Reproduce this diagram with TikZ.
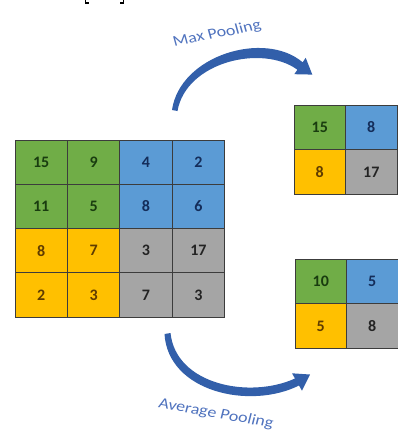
\documentclass[tikz,border=0pt]{standalone}
\usepackage{fontspec}
\setmainfont{Carlito}
\begin{document}
\definecolor{cgreen}{RGB}{112,173,71}
\definecolor{cblue}{RGB}{91,155,213}
\definecolor{cyellow}{RGB}{255,192,0}
\definecolor{cgray}{RGB}{165,165,165}
\definecolor{tgreen}{RGB}{25,60,15}
\definecolor{tblue}{RGB}{20,45,90}
\definecolor{tyellow}{RGB}{95,60,0}
\definecolor{tgray}{RGB}{35,35,35}
\definecolor{cborder}{RGB}{60,60,60}
\definecolor{arrowblue}{RGB}{50,95,170}
\definecolor{labelblue}{RGB}{80,115,190}
\begin{tikzpicture}[x=1pt,y=-1pt,
  cell/.style={draw=cborder,line width=0.8pt,minimum width=52.4pt,minimum height=44.25pt,inner sep=0pt,font=\fontsize{16}{16}\selectfont\bfseries},
  gcell/.style={cell,fill=cgreen,text=tgreen},
  bcell/.style={cell,fill=cblue,text=tblue},
  ycell/.style={cell,fill=cyellow,text=tyellow},
  scell/.style={cell,fill=cgray,text=tgray},
  small/.style={minimum width=51.5pt,minimum height=44.8pt},
  lbl/.style={text=labelblue,font=\fontsize{15}{15}\selectfont,xscale=1.2,inner sep=0pt},
  arr/.style={fill=arrowblue,draw=none}]
\useasboundingbox (0,0) rectangle (398,436);
% bracket feet at top edge
\draw[line width=1.2pt,black] (85.5,0) -- (85.5,3) -- (89,3);
\draw[line width=1.2pt,black] (123.5,0) -- (123.5,3) -- (120,3);
% input grid
\node[gcell] (a11) at (41.2,162.1) {15};
\node[gcell] (a12) at (93.6,162.1) {9};
\node[bcell] (a13) at (146.0,162.1) {4};
\node[bcell] (a14) at (198.4,162.1) {2};
\node[gcell] (a21) at (41.2,206.4) {11};
\node[gcell] (a22) at (93.6,206.4) {5};
\node[bcell] (a23) at (146.0,206.4) {8};
\node[bcell] (a24) at (198.4,206.4) {6};
\node[ycell] (a31) at (41.2,250.6) {8};
\node[ycell] (a32) at (93.6,250.6) {7};
\node[scell] (a33) at (146.0,250.6) {3};
\node[scell] (a34) at (198.4,250.6) {17};
\node[ycell] (a41) at (41.2,294.9) {2};
\node[ycell] (a42) at (93.6,294.9) {3};
\node[scell] (a43) at (146.0,294.9) {7};
\node[scell] (a44) at (198.4,294.9) {3};
% max pooling output
\node[gcell,small] (m11) at (319.75,127.4) {15};
\node[bcell,small] (m12) at (371.25,127.4) {8};
\node[ycell,small] (m21) at (319.75,172.2) {8};
\node[scell,small] (m22) at (371.25,172.2) {17};
% average pooling output
\node[gcell,small] (v11) at (320.75,281.4) {10};
\node[bcell,small] (v12) at (372.25,281.4) {5};
\node[ycell,small] (v21) at (320.75,326.2) {5};
\node[scell,small] (v22) at (372.25,326.2) {8};
% max pooling arrow
\fill[arr] (172,110) .. controls (180,55) and (265,30) .. (302.6,62.3)
  -- (305.7,57.8) -- (312.3,74.6) -- (294.3,74.2) -- (297.4,69.7)
  .. controls (262,44) and (186,62) .. (177.5,111) -- cycle;
\node[lbl,rotate=13] (lmax) at (217,34) {Max Pooling};
% average pooling arrow
\fill[arr] (164.5,334) .. controls (168,392) and (250,410) .. (299,385.5)
  -- (302,390.7) -- (310,374.5) -- (292,373.3) -- (295,378.5)
  .. controls (250,399) and (176,385) .. (170.5,333) -- cycle;
\node[lbl,rotate=-12] (lavg) at (216,414) {Average Pooling};
\end{tikzpicture}
\end{document}
